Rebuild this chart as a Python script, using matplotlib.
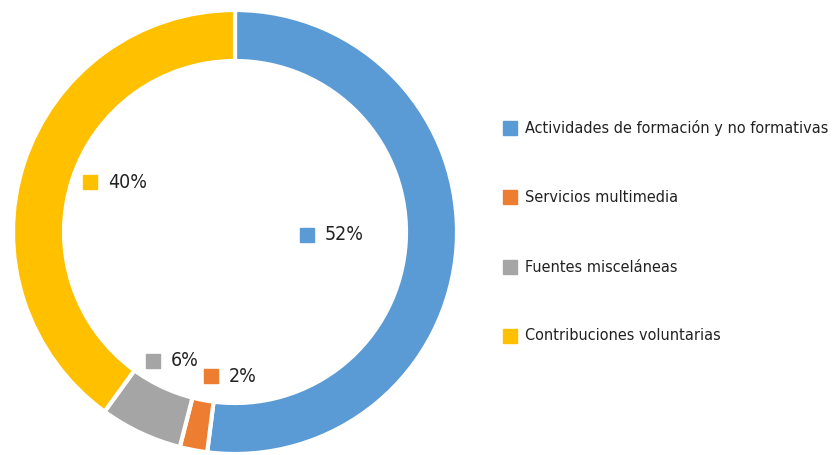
import matplotlib.pyplot as plt
from matplotlib.patches import Rectangle

categorias = ["Actividades de formación y no formativas", "Servicios multimedia",
              "Fuentes misceláneas", "Contribuciones voluntarias"]
valores = [52, 2, 6, 40]
colores = ["#5B9BD5", "#ED7D31", "#A5A5A5", "#FFC000"]

plt.rcParams['font.family'] = ["DejaVu Sans"]
plt.rcParams['font.stretch'] = "condensed"

W, H = 836, 455
fig = plt.figure(figsize=(W / 100, H / 100), dpi=100)
ax = fig.add_axes([0, 0, 1, 1])

cx, cy, r = 235, 223, 222
ax.pie(valores, colors=colores, startangle=90, counterclock=False,
       center=(cx, cy), radius=r, frame=True,
       wedgeprops=dict(width=51, edgecolor="white", linewidth=3))

ax.set_xlim(0, W)
ax.set_ylim(0, H)
ax.set_aspect("equal")
ax.axis("off")

# etiquetas de porcentaje dentro del anillo
pos_etiquetas = [(307, 220), (211, 79), (153, 94), (90, 273)]
for (x, y), v, c in zip(pos_etiquetas, valores, colores):
    ax.add_patch(Rectangle((x - 7, y - 7), 14, 14, color=c))
    ax.text(x + 18, y, f"{v}%", fontsize=14, va="center", ha="left",
            color="#222222", fontstretch="condensed")

# leyenda
ys = [327, 258, 188, 119]
for y, nom, c in zip(ys, categorias, colores):
    ax.add_patch(Rectangle((503, y - 7), 14, 14, color=c))
    ax.text(525, y, nom, fontsize=11.6, va="center", ha="left",
            color="#222222", fontstretch="condensed")

fig.savefig("out.png", dpi=100)
